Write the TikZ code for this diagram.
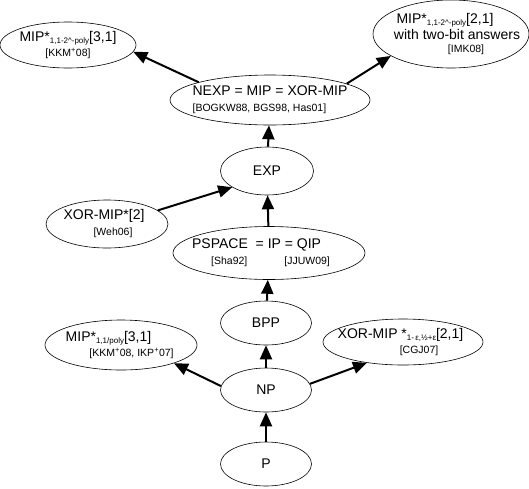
\documentclass[tikz,border=0pt]{standalone}
\usepackage{fontspec}
\setmainfont{Liberation Sans}
\usetikzlibrary{shapes.geometric, arrows.meta}
\newcommand{\lowsub}[1]{\raisebox{-2.5pt}{\fontsize{8}{9}\selectfont #1}}
\newcommand{\reftag}[1]{{\fontsize{10.5}{12}\selectfont #1}}

\begin{document}
\begin{tikzpicture}[x=1pt, y=-1pt,
    cls/.style={ellipse, draw, line width=0.6pt, inner xsep=-60pt, inner ysep=-30pt, align=center, font=\fontsize{14}{16}\selectfont},
    arr/.style={line width=2pt, -{Triangle[length=14pt, width=12pt]}}]
            \useasboundingbox (0,0) rectangle (529,488);
            % classes, bottom to top
            \node[cls, minimum width=91pt, minimum height=44pt] (P) at (266,464) {P};
            \node[cls, minimum width=91pt, minimum height=44pt] (NP) at (266,390) {NP};
            \node[cls, minimum width=91pt, minimum height=44pt] (BPP) at (266,323) {BPP};
            \node[cls, minimum width=152pt, minimum height=50pt] (MIPc) at (121,345) {MIP*\lowsub{1,1/poly}[3,1]\hspace*{25pt}\\[-1pt]\hspace*{21pt}\reftag{[KKM\textsuperscript{+}08, IKP\textsuperscript{+}07]}};
            \node[cls, minimum width=160pt, minimum height=46pt] (XORc) at (403,342) {XOR-MIP *\lowsub{1-\,ε,½+ε}[2,1]\hspace*{5pt}\\[-1pt]\hspace*{32pt}\reftag{[CGJ07]}};
            \node[cls, align=left, minimum width=192pt, minimum height=53pt] (PSPACE) at (269,253) {PSPACE\ \ = IP = QIP\\\hspace*{19pt}\reftag{[Sha92]}\hspace{37pt}\reftag{[JJUW09]}\hspace*{16pt}};
            \node[cls, minimum width=122pt, minimum height=48pt] (XOR2) at (107,224) {XOR-MIP*[2]\hspace*{6pt}\\\hspace*{12pt}\reftag{[Weh06]}};
            \node[cls, minimum width=93pt, minimum height=48pt] (EXP) at (267,171) {EXP};
            \node[cls, align=left, minimum width=200pt, minimum height=50pt] (NEXP) at (270,100) {NEXP = MIP = XOR-MIP\\\reftag{[BOGKW88, BGS98, Has01]}};
            \node[cls, minimum width=136pt, minimum height=46pt] (MIPa) at (68,45) {MIP*\lowsub{1,1-2\textasciicircum-poly}[3,1]\\[-1pt]\reftag{[KKM\textsuperscript{+}08]}};
            \node[cls, minimum width=156pt, minimum height=68pt] (MIPb) at (451,34) {MIP*\lowsub{1,1-2\textasciicircum-poly}[2,1]\hspace*{12pt}\\\hspace*{12pt}with two-bit answers\\[-3pt]\hspace*{30pt}\reftag{[IMK08]}};
            % inclusions
            \draw[arr] (P) -- (NP);
            \draw[arr] (NP) -- (BPP);
            \draw[arr] (BPP) -- (PSPACE);
            \draw[arr] (PSPACE) -- (EXP);
            \draw[arr] (EXP) -- (NEXP);
            \draw[arr] (XOR2.15) -- (EXP.205);
            \draw[arr] (NEXP.166) -- (MIPa.-6);
            \draw[arr] (NEXP.12) -- (MIPb.200);
            \draw[arr] (NP.175) -- (MIPc.-19);
            \draw[arr] (NP.8) -- (XORc.210);
        \end{tikzpicture}
\end{document}
